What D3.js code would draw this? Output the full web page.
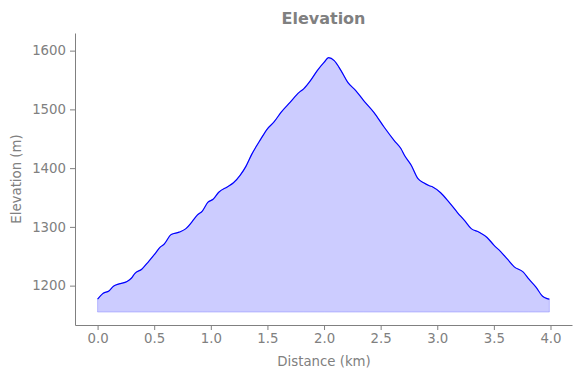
<!DOCTYPE html>
<html>
<head>
<meta charset="utf-8">
<script src="https://cdn.jsdelivr.net/npm/d3@7"></script>
<style>
  body { margin: 0; background: #fff; }
  text { font-family: "DejaVu Sans", sans-serif; fill: #808080; }
</style>
</head>
<body>
<script>
// distance along the track (km) and elevation (m)
var distance = [0.00, 0.05, 0.10, 0.14, 0.19, 0.26, 0.30, 0.33, 0.39, 0.45, 0.51, 0.555, 0.585, 0.65, 0.72, 0.78, 0.835, 0.88, 0.925, 0.975,
  1.02, 1.07, 1.145, 1.20, 1.26, 1.31, 1.36, 1.44, 1.50, 1.56, 1.62, 1.70, 1.78, 1.82, 1.88, 1.94, 2.00, 2.04, 2.09, 2.15,
  2.21, 2.28, 2.35, 2.44, 2.53, 2.62, 2.68, 2.71, 2.77, 2.83, 2.88, 2.93, 2.96, 3.03, 3.10, 3.18, 3.24, 3.30, 3.37, 3.44,
  3.50, 3.56, 3.62, 3.68, 3.76, 3.81, 3.87, 3.93, 3.97, 3.99];
var elevation = [1177, 1187, 1191, 1199, 1203, 1207, 1213, 1221, 1228, 1241, 1255, 1266, 1270, 1287, 1291, 1297, 1309, 1320, 1327, 1342,
  1347, 1359, 1368, 1375, 1388, 1403, 1423, 1449, 1467, 1479, 1495, 1512, 1529, 1535, 1549, 1566, 1580, 1588, 1583, 1566,
  1546, 1532, 1515, 1495, 1470, 1447, 1433, 1422, 1405, 1382, 1375, 1370, 1368, 1358, 1343, 1324, 1311, 1297, 1291, 1282,
  1269, 1258, 1245, 1232, 1223, 1211, 1198, 1182, 1178, 1177];
var fillBase = 1155;
var xTicks = [0, 0.5, 1, 1.5, 2, 2.5, 3, 3.5, 4];
var yTicks = [1200, 1300, 1400, 1500, 1600];

var width = 580, height = 378;
var margin = {top: 33, right: 8, bottom: 53, left: 75};

var data = distance.map(function(d, i) {
    return {dist: d, elev: elevation[i]};
});

var svg = d3.select("body").append("svg")
    .attr("width", width)
    .attr("height", height);

var xScale = d3.scaleLinear()
    .domain([-0.1995, 4.19])
    .range([margin.left, width - margin.right]);

var yScale = d3.scaleLinear()
    .domain([1133, 1630])
    .range([height - margin.bottom, margin.top]);

//Fill under the profile
var area = d3.area()
    .x(function(d) { return xScale(d.dist); })
    .y0(yScale(fillBase))
    .y1(function(d) { return yScale(d.elev); })
    .curve(d3.curveMonotoneX);

svg.append("path")
    .datum(data)
    .attr("d", area)
    .attr("fill", "#0000ff")
    .attr("fill-opacity", 0.2)
    .attr("stroke", "#0000ff")
    .attr("stroke-opacity", 0.2)
    .attr("stroke-width", 1);

//Profile line
var line = d3.line()
    .x(function(d) { return xScale(d.dist); })
    .y(function(d) { return yScale(d.elev); })
    .curve(d3.curveMonotoneX);

svg.append("path")
    .datum(data)
    .attr("d", line)
    .attr("fill", "none")
    .attr("stroke", "#0000ff")
    .attr("stroke-width", 1.2);

//Axes
var xAxis = d3.axisBottom(xScale)
    .tickValues(xTicks)
    .tickFormat(d3.format(".1f"))
    .tickSizeInner(5)
    .tickSizeOuter(0)
    .tickPadding(4);

var yAxis = d3.axisLeft(yScale)
    .tickValues(yTicks)
    .tickFormat(d3.format("d"))
    .tickSizeInner(5)
    .tickSizeOuter(0)
    .tickPadding(4);

var gx = svg.append("g")
    .attr("transform", "translate(0," + (height - margin.bottom) + ")")
    .call(xAxis);

var gy = svg.append("g")
    .attr("transform", "translate(" + margin.left + ",0)")
    .call(yAxis);

[gx, gy].forEach(function(g) {
    g.selectAll("path, line").attr("stroke", "#808080");
    g.selectAll("text")
        .style("font-size", "13.3px")
        .attr("fill", "#808080");
});

//Labels
svg.append("text")
    .attr("x", (margin.left + width - margin.right) / 2)
    .attr("y", 24)
    .attr("text-anchor", "middle")
    .style("font-size", "16px")
    .style("font-weight", "bold")
    .text("Elevation");

svg.append("text")
    .attr("x", xScale(2))
    .attr("y", 366)
    .attr("text-anchor", "middle")
    .style("font-size", "13.3px")
    .text("Distance (km)");

svg.append("text")
    .attr("transform", "translate(21," + ((margin.top + height - margin.bottom) / 2) + ") rotate(-90)")
    .attr("text-anchor", "middle")
    .style("font-size", "13.3px")
    .text("Elevation (m)");
</script>
</body>
</html>
